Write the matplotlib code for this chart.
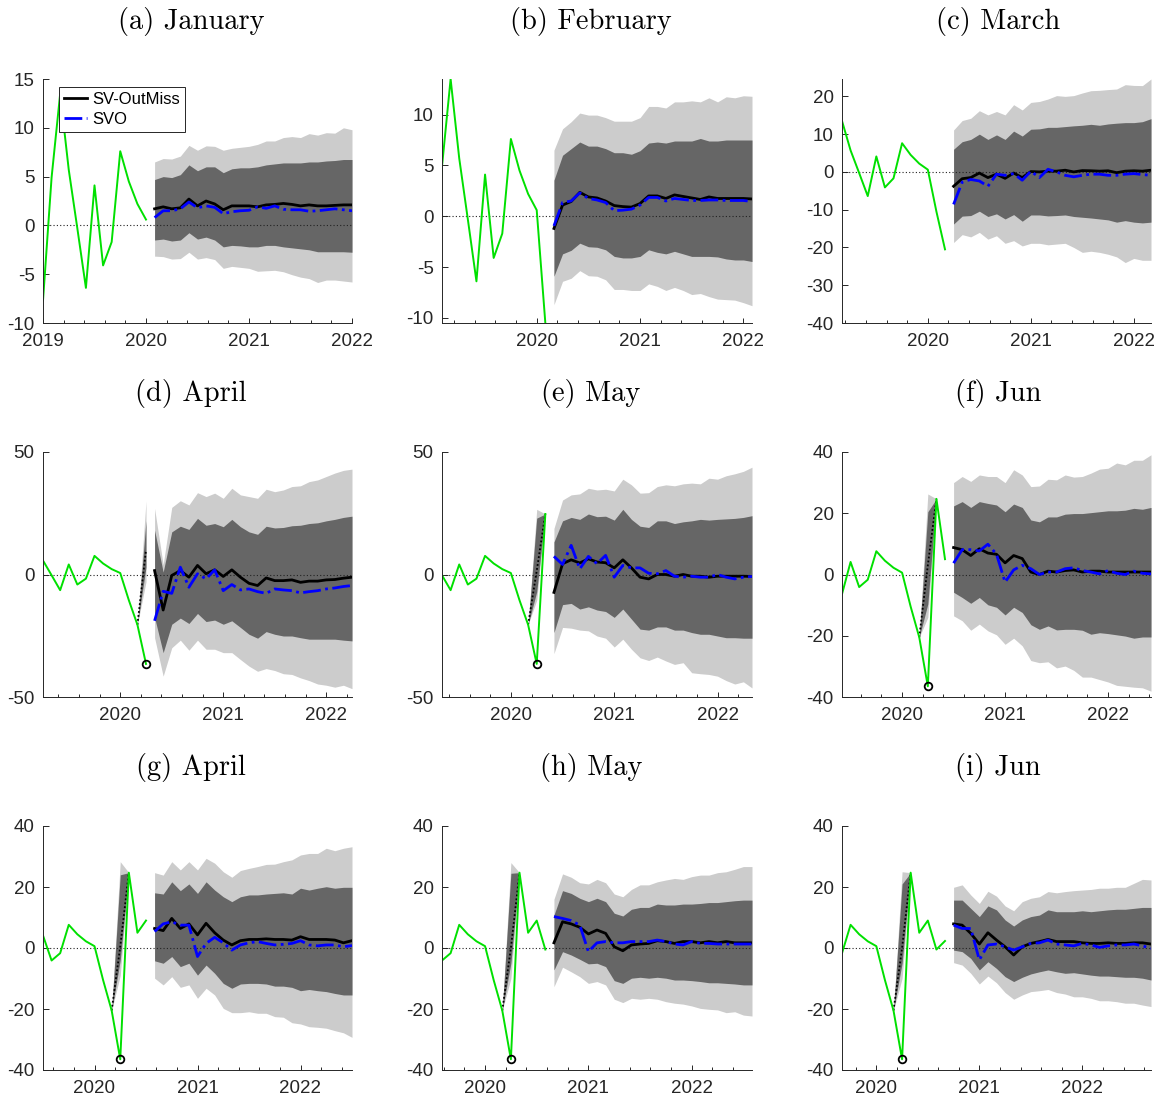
"""Nowcast / forecast fan charts, nine monthly vintages (SV-OutMiss vs SVO)."""

import matplotlib

matplotlib.use("Agg")
import matplotlib.pyplot as plt
import numpy as np
from matplotlib.lines import Line2D
from matplotlib.ticker import FixedLocator, MultipleLocator

plt.rcParams["font.family"] = ["Liberation Sans", "DejaVu Sans"]
plt.rcParams["axes.unicode_minus"] = False

LIGHT_COLOR = "#cccccc"  # outer band
DARK_COLOR = "#666666"  # inner band
OBS_COLOR = "#00e000"  # observed data
AXIS_COLOR = "#262626"

TITLES = [
    "(a) January", "(b) February", "(c) March",
    "(d) April", "(e) May", "(f) Jun",
    "(g) April", "(h) May", "(i) Jun",
]

# observed series, monthly 2019-01 .. 2020-09
OBS = [-7.7, 4.9, 13.5, 5.7, -0.3, -6.4, 4.1, -4.1, -1.7, 7.6, 4.5, 2.2,
       0.6, -10.5, -20.5, -36.5, 24.7, 5.0, 9.0, -0.5, 2.3]

# 24-month forecasts, one block per panel
A_MED = [1.7, 1.9, 1.7, 1.8, 2.7, 2.0, 2.5, 2.2, 1.6, 2.0, 2.0, 2.0, 1.9, 2.1, 2.15, 2.25, 2.15, 2.0, 2.1, 2.0, 2.0, 2.05, 2.1, 2.1]
A_SVO = [0.8, 1.5, 1.5, 1.7, 2.4, 1.8, 2.0, 1.85, 1.2, 1.4, 1.5, 1.55, 1.9, 1.75, 2.0, 1.65, 1.6, 1.6, 1.45, 1.5, 1.6, 1.7, 1.6, 1.5]
A_D_HI = [4.7, 5.0, 4.9, 5.2, 6.2, 5.6, 6.0, 6.0, 5.4, 5.8, 5.9, 5.9, 6.0, 6.2, 6.3, 6.4, 6.4, 6.4, 6.5, 6.5, 6.6, 6.65, 6.75, 6.75]
A_D_LO = [-1.5, -1.4, -1.6, -1.5, -0.75, -1.4, -1.2, -1.5, -2.2, -2.05, -2.1, -2.2, -2.2, -2.05, -2.05, -2.2, -2.3, -2.4, -2.5, -2.7, -2.7, -2.7, -2.7, -2.75]
A_L_HI = [6.5, 6.85, 6.8, 7.1, 8.2, 7.7, 8.15, 8.1, 7.7, 7.9, 8.0, 8.1, 8.3, 8.65, 8.65, 9.0, 9.1, 9.0, 9.4, 9.25, 9.5, 9.45, 10.0, 9.8]
A_L_LO = [-3.15, -3.2, -3.45, -3.4, -2.75, -3.45, -3.3, -3.5, -4.4, -4.2, -4.3, -4.4, -4.7, -4.65, -4.6, -4.75, -5.05, -5.3, -5.45, -5.85, -5.6, -5.6, -5.7, -5.8]

B_MED = [-1.2, 1.1, 1.45, 2.35, 1.9, 1.8, 1.5, 1.05, 0.95, 0.9, 1.25, 2.0, 2.0, 1.75, 2.1, 1.95, 1.8, 1.65, 1.9, 1.75, 1.75, 1.75, 1.75, 1.7]
B_SVO = [-0.95, 1.35, 1.5, 2.3, 1.75, 1.6, 1.35, 0.55, 0.6, 0.7, 1.1, 1.85, 1.85, 1.5, 1.75, 1.65, 1.55, 1.55, 1.6, 1.6, 1.55, 1.55, 1.55, 1.45]
B_D_HI = [3.55, 6.0, 6.65, 7.3, 6.9, 6.9, 6.65, 6.25, 6.25, 6.1, 6.45, 7.2, 7.3, 7.2, 7.4, 7.4, 7.4, 7.65, 7.4, 7.4, 7.5, 7.5, 7.5, 7.5]
B_D_LO = [-5.9, -3.7, -3.35, -2.65, -3.0, -3.05, -3.3, -3.95, -4.1, -4.1, -3.95, -3.3, -3.55, -3.7, -3.45, -3.7, -3.95, -3.95, -3.95, -4.0, -4.2, -4.3, -4.3, -4.45]
B_L_HI = [6.5, 8.6, 9.3, 10.15, 9.95, 9.95, 9.7, 9.35, 9.35, 9.35, 9.7, 10.8, 10.8, 10.65, 11.25, 11.25, 11.35, 11.25, 11.65, 11.25, 11.75, 11.65, 11.85, 11.8]
B_L_LO = [-8.7, -6.4, -6.1, -5.35, -5.85, -5.9, -6.25, -7.2, -7.2, -7.3, -7.3, -6.65, -6.9, -7.3, -7.0, -7.3, -7.7, -7.6, -7.9, -8.15, -8.2, -8.25, -8.5, -8.8]

C_MED = [-3.8, -1.8, -1.5, -0.3, -1.5, -0.6, -1.7, -0.3, -1.5, 0.1, 0.0, 0.2, 0.2, 0.45, 0.0, 0.35, 0.3, 0.2, 0.3, -0.2, 0.2, 0.3, 0.2, 0.45]
C_SVO = [-8.6, -2.7, -2.0, -2.4, -3.8, -0.6, -0.9, -0.45, -2.2, 0.2, -1.5, 0.7, 0.0, -0.9, -1.3, -0.9, -0.6, -0.6, -0.9, -0.9, -0.6, -0.45, -0.7, -0.9]
C_D_HI = [6.0, 8.0, 8.6, 10.0, 8.6, 9.8, 8.6, 10.8, 9.5, 11.3, 11.4, 11.8, 11.8, 12.0, 12.2, 12.35, 12.6, 12.35, 12.7, 12.9, 13.05, 13.05, 13.3, 14.1]
C_D_LO = [-13.8, -11.7, -11.55, -10.4, -11.8, -11.1, -12.45, -11.3, -13.05, -11.4, -11.4, -11.65, -11.55, -11.4, -11.8, -12.0, -12.2, -12.45, -12.7, -13.3, -12.9, -13.3, -13.5, -13.3]
C_L_HI = [11.1, 13.6, 14.2, 16.2, 15.1, 16.0, 15.1, 17.8, 16.4, 18.4, 18.65, 19.3, 20.2, 20.0, 20.2, 20.9, 21.5, 21.6, 21.8, 21.95, 23.1, 22.9, 22.85, 24.6]
C_L_LO = [-18.7, -16.6, -17.2, -16.0, -17.8, -16.9, -18.9, -18.2, -19.6, -18.9, -18.9, -19.3, -19.1, -18.9, -20.0, -21.3, -21.0, -21.3, -21.8, -22.5, -24.0, -22.9, -23.4, -23.4]

D_MED = [1.6, -14.5, -0.4, 1.6, -1.1, 3.7, 0.3, 1.9, -0.8, 1.9, -1.1, -3.6, -4.5, -1.4, -2.5, -2.5, -2.2, -3.2, -2.7, -2.7, -2.2, -2.05, -1.5, -1.1]
D_SVO = [-18.9, -6.85, -7.7, 3.0, -5.2, 0.3, -1.8, 1.9, -6.6, -4.1, -6.3, -5.9, -7.0, -7.7, -5.9, -6.3, -6.6, -7.5, -7.0, -6.6, -5.9, -5.5, -4.9, -4.5]
D_D_HI = [18.1, 1.0, 17.4, 19.7, 18.4, 22.9, 20.1, 20.8, 19.5, 22.5, 19.5, 17.4, 16.4, 19.7, 19.0, 19.2, 19.9, 20.1, 20.8, 21.1, 21.9, 22.5, 23.3, 23.8]
D_D_LO = [-17.5, -31.9, -20.3, -17.8, -20.0, -15.9, -19.2, -18.6, -20.3, -18.9, -21.6, -24.4, -26.0, -23.3, -24.4, -25.1, -25.1, -25.8, -26.4, -26.4, -26.4, -26.4, -26.8, -27.1]
D_L_HI = [27.0, 4.0, 27.4, 30.1, 28.4, 33.4, 31.8, 33.2, 31.1, 35.2, 32.5, 31.8, 31.1, 34.8, 33.8, 34.5, 35.9, 36.2, 37.9, 38.6, 40.0, 41.4, 42.5, 43.0]
D_L_LO = [-25.8, -41.5, -29.9, -26.8, -30.9, -26.8, -30.5, -30.5, -31.9, -31.9, -34.7, -37.4, -39.5, -38.4, -39.2, -40.5, -40.8, -42.2, -43.3, -44.7, -45.2, -46.0, -45.2, -46.6]

E_MED = [-7.3, 4.4, 6.0, 4.7, 6.4, 5.1, 4.8, 2.7, 6.0, 2.7, -1.1, -1.8, 0.0, 0.0, -0.7, 0.0, -0.7, -0.7, -1.1, -0.7, -0.7, -0.7, -0.7, -0.8]
E_SVO = [7.4, 4.1, 11.9, 2.3, 7.4, 4.4, 7.8, -1.1, 3.7, 2.7, 2.7, 0.5, 0.3, 1.6, -0.7, -1.1, -0.7, -1.1, -1.1, 0.0, -1.1, -1.8, -1.1, -0.8]
E_D_HI = [13.3, 21.9, 23.3, 22.5, 24.7, 23.6, 23.8, 22.2, 26.6, 22.5, 19.7, 19.2, 21.9, 21.9, 20.8, 21.5, 21.9, 22.5, 22.2, 22.5, 22.7, 22.9, 23.3, 24.0]
E_D_LO = [-23.7, -12.3, -11.8, -14.1, -13.2, -14.5, -15.1, -17.5, -14.1, -18.2, -22.3, -22.7, -21.4, -21.4, -22.7, -22.7, -23.7, -24.4, -24.4, -25.1, -25.8, -25.8, -26.0, -26.0]
E_L_HI = [18.8, 30.4, 32.5, 32.9, 35.2, 34.5, 34.8, 34.1, 38.9, 36.6, 33.2, 33.4, 35.9, 36.6, 36.2, 37.0, 37.3, 37.0, 39.3, 38.9, 40.3, 41.1, 42.1, 43.8]
E_L_LO = [-32.3, -21.6, -21.9, -22.7, -23.0, -25.1, -26.0, -29.6, -26.4, -30.5, -34.0, -35.1, -33.7, -35.3, -36.7, -36.0, -40.1, -40.5, -40.8, -41.5, -43.3, -44.7, -43.8, -46.3]

F_MED = [8.8, 8.1, 6.2, 8.4, 7.0, 6.6, 3.8, 6.2, 5.2, 0.8, 0.0, 1.1, 0.8, 1.3, 1.5, 0.8, 1.1, 1.1, 0.8, 0.8, 0.8, 0.8, 0.8, 0.8]
F_SVO = [3.7, 8.1, 8.1, 7.7, 9.9, 6.6, -2.5, 1.5, 3.0, 1.9, 0.0, 0.8, 0.8, 1.9, 2.2, 1.3, 0.8, 0.2, 1.3, 0.4, 0.0, 1.1, 0.4, 0.2]
F_D_HI = [22.4, 23.8, 21.9, 23.8, 23.2, 22.7, 20.5, 23.0, 21.9, 17.8, 17.2, 18.8, 18.8, 19.7, 19.9, 19.9, 20.2, 20.5, 20.8, 20.8, 21.0, 21.6, 21.3, 21.9]
F_D_LO = [-5.8, -7.5, -9.4, -7.5, -9.9, -10.7, -13.2, -10.7, -12.4, -16.4, -17.9, -16.8, -18.1, -17.9, -17.9, -18.2, -19.5, -19.0, -19.3, -19.7, -20.1, -20.8, -20.4, -20.4]
F_L_HI = [30.0, 32.0, 30.4, 32.5, 32.0, 32.0, 30.0, 34.2, 32.5, 28.7, 28.9, 31.1, 30.9, 32.5, 31.8, 32.0, 33.1, 34.4, 34.7, 36.4, 35.8, 37.3, 37.3, 39.1]
F_L_LO = [-13.5, -15.1, -18.2, -16.2, -18.4, -19.7, -22.8, -20.8, -23.3, -28.1, -28.8, -28.5, -30.5, -29.9, -31.3, -33.5, -33.5, -34.3, -35.1, -36.2, -36.5, -36.8, -37.0, -38.1]

G_MED = [6.4, 5.7, 9.7, 6.4, 7.9, 4.3, 8.1, 5.0, 2.6, 1.0, 2.4, 2.8, 2.8, 3.0, 2.8, 2.8, 2.6, 3.7, 2.8, 2.8, 2.8, 2.6, 1.7, 2.4]
G_SVO = [5.4, 7.9, 8.6, 7.5, 7.5, -2.8, 1.5, 3.5, 1.7, -0.7, 1.0, 1.7, 2.1, 1.5, 1.0, 1.2, 1.5, 2.4, 1.0, 0.7, 1.0, 1.0, 0.4, 0.8]
G_D_HI = [18.1, 17.7, 21.7, 18.8, 21.0, 17.9, 21.7, 19.0, 16.8, 15.2, 16.8, 17.4, 17.4, 17.7, 17.9, 18.1, 17.7, 19.6, 19.0, 19.6, 20.1, 19.6, 19.9, 19.9]
G_D_LO = [-4.2, -5.0, -2.8, -6.1, -5.0, -8.9, -5.6, -8.3, -11.6, -13.2, -11.8, -11.6, -11.6, -11.8, -12.5, -12.5, -12.9, -14.0, -13.6, -14.0, -14.3, -14.9, -15.4, -15.4]
G_L_HI = [24.7, 23.9, 28.3, 25.6, 28.3, 25.6, 29.4, 27.8, 25.0, 23.2, 25.4, 26.1, 26.7, 27.4, 27.5, 28.3, 28.9, 30.5, 31.0, 31.0, 32.7, 31.9, 32.7, 33.2]
G_L_LO = [-9.9, -12.1, -9.4, -12.9, -12.1, -16.5, -13.2, -15.4, -19.8, -21.2, -21.2, -20.9, -21.4, -21.4, -22.5, -22.7, -24.5, -24.9, -25.8, -26.0, -26.3, -27.1, -27.8, -29.3]

H_MED = [1.7, 8.6, 7.9, 6.8, 4.6, 5.9, 4.8, 0.4, -0.9, 1.0, 1.3, 1.5, 2.4, 2.1, 1.5, 2.1, 2.1, 1.7, 2.1, 1.7, 2.1, 1.7, 1.7, 1.7]
H_SVO = [10.3, 9.7, 9.0, 7.5, -1.2, 1.7, 2.1, 1.7, 1.7, 2.1, 2.1, 2.1, 2.6, 2.1, 1.3, 1.0, 2.1, 1.5, 1.5, 1.3, 1.3, 1.3, 1.3, 1.3]
H_D_HI = [10.8, 18.8, 17.9, 16.3, 15.2, 16.3, 15.2, 11.4, 10.5, 12.7, 13.3, 13.3, 14.4, 14.1, 14.1, 14.4, 14.4, 14.6, 14.9, 14.9, 15.2, 15.5, 15.7, 15.7]
H_D_LO = [-7.2, -1.2, -2.3, -3.7, -5.2, -5.0, -6.1, -10.7, -11.6, -9.9, -9.6, -9.9, -9.6, -9.9, -10.5, -10.5, -10.7, -11.0, -11.4, -11.4, -11.6, -11.8, -12.1, -12.1]
H_L_HI = [16.0, 24.3, 23.2, 21.4, 21.0, 22.5, 21.4, 17.7, 16.8, 19.2, 20.7, 20.7, 21.7, 22.3, 22.8, 22.5, 23.4, 23.9, 23.9, 24.7, 25.0, 25.8, 26.7, 26.7]
H_L_LO = [-12.7, -6.3, -7.8, -9.4, -11.6, -11.0, -12.1, -16.8, -17.9, -16.5, -16.8, -16.5, -16.8, -17.6, -18.1, -18.4, -19.0, -19.8, -20.1, -20.3, -21.2, -20.9, -22.0, -22.3]

I_MED = [7.9, 7.5, 4.8, 1.3, 5.0, 2.6, 0.4, -2.3, 0.4, 1.5, 2.1, 2.8, 2.1, 2.1, 2.1, 1.7, 1.5, 1.5, 1.7, 1.5, 1.5, 1.7, 1.7, 1.3]
I_SVO = [7.5, 6.4, 6.4, -3.9, 1.0, 1.3, 0.4, -0.7, 0.4, 1.5, 1.7, 2.6, 1.3, 1.0, 0.7, 1.5, 1.0, 0.2, 0.7, 1.0, 1.0, 1.3, 0.7, -0.1]
I_D_HI = [15.7, 15.7, 13.0, 10.3, 13.8, 12.5, 9.2, 7.2, 9.2, 10.3, 10.8, 12.5, 11.9, 11.9, 11.9, 12.2, 11.9, 12.2, 12.5, 12.7, 12.7, 13.0, 13.3, 13.3]
I_D_LO = [-0.7, -1.2, -3.4, -7.2, -4.5, -6.7, -9.4, -11.0, -9.6, -8.5, -7.8, -7.2, -7.8, -8.3, -8.1, -8.5, -8.9, -9.2, -9.2, -9.4, -9.6, -9.6, -9.9, -10.5]
I_L_HI = [19.9, 20.7, 17.4, 14.6, 18.6, 17.0, 13.8, 12.2, 15.2, 16.3, 16.8, 18.5, 18.1, 18.5, 18.8, 19.0, 19.2, 19.6, 19.6, 19.9, 19.9, 21.2, 22.5, 22.3]
I_L_LO = [-4.8, -5.6, -8.3, -11.8, -9.2, -11.4, -14.6, -16.8, -15.4, -14.3, -14.0, -13.6, -14.6, -15.1, -16.0, -16.0, -16.5, -17.3, -17.3, -17.6, -18.1, -18.1, -18.7, -19.2]

# nowcast of the April 2020 outlier-adjusted value, panels (d)..(i)
NOW_MED = [10.0, 1.5, 3.0, 0.5, 0.0, 0.0]
NOW_D_LO = [3.0, -7.0, -9.6, -4.0, -5.0, -5.0]
NOW_D_HI = [22.0, 23.0, 20.5, 24.0, 24.5, 21.0]
NOW_L_LO = [-3.0, -10.5, -14.0, -9.0, -10.0, -10.0]
NOW_L_HI = [30.0, 26.6, 26.3, 28.3, 28.0, 25.0]

Y_LIMS = [(-10, 15), (-10.5, 13.5), (-40, 24.6),
          (-50, 50), (-50, 50), (-40, 40),
          (-40, 40), (-40, 40), (-40, 40)]
Y_TICKS = [[-10, -5, 0, 5, 10, 15], [-10, -5, 0, 5, 10], [-40, -30, -20, -10, 0, 10, 20],
           [-50, 0, 50], [-50, 0, 50], [-40, -20, 0, 20, 40],
           [-40, -20, 0, 20, 40], [-40, -20, 0, 20, 40], [-40, -20, 0, 20, 40]]

FORECASTS = [
    (A_MED, A_SVO, A_D_LO, A_D_HI, A_L_LO, A_L_HI),
    (B_MED, B_SVO, B_D_LO, B_D_HI, B_L_LO, B_L_HI),
    (C_MED, C_SVO, C_D_LO, C_D_HI, C_L_LO, C_L_HI),
    (D_MED, D_SVO, D_D_LO, D_D_HI, D_L_LO, D_L_HI),
    (E_MED, E_SVO, E_D_LO, E_D_HI, E_L_LO, E_L_HI),
    (F_MED, F_SVO, F_D_LO, F_D_HI, F_L_LO, F_L_HI),
    (G_MED, G_SVO, G_D_LO, G_D_HI, G_L_LO, G_L_HI),
    (H_MED, H_SVO, H_D_LO, H_D_HI, H_L_LO, H_L_HI),
    (I_MED, I_SVO, I_D_LO, I_D_HI, I_L_LO, I_L_HI),
]

# layout in pixels of the 1158 x 1099 canvas
FIG_W, FIG_H = 1158, 1099
COL_LEFT = [43, 442, 842]
COL_RIGHT = [352, 752, 1151]
ROW_TOP = [79, 452, 826]
ROW_BOTTOM = [323, 697, 1070]
TITLE_X = [191, 591, 998]
TITLE_Y = [21, 394, 768]

OBS_X = 2019 + np.arange(len(OBS)) / 12.0
APR_2020 = 15  # index of the outlier month

fig = plt.figure(figsize=(FIG_W / 100, FIG_H / 100), dpi=100)

for k, (med, svo, d_lo, d_hi, l_lo, l_hi) in enumerate(FORECASTS):
    row, col = divmod(k, 3)
    left, right = COL_LEFT[col], COL_RIGHT[col]
    top, bottom = ROW_TOP[row], ROW_BOTTOM[row]
    ax = fig.add_axes([left / FIG_W, 1 - bottom / FIG_H,
                       (right - left) / FIG_W, (bottom - top) / FIG_H])

    last_obs = 12 + k
    fc_x = 2019 + (last_obs + 1 + np.arange(len(med))) / 12.0

    ax.fill_between(fc_x, l_lo, l_hi, color=LIGHT_COLOR, lw=0, zorder=1)
    ax.fill_between(fc_x, d_lo, d_hi, color=DARK_COLOR, lw=0, zorder=2)

    # nowcast fan for the April 2020 observation
    if k >= 3:
        j = k - 3
        start = OBS[APR_2020 - 1]
        if k == 3:
            nx = OBS_X[APR_2020 - 1:APR_2020 + 1]
            n_med = [start, NOW_MED[j]]
            n_dlo, n_dhi = [start, NOW_D_LO[j]], [start, NOW_D_HI[j]]
            n_llo, n_lhi = [start, NOW_L_LO[j]], [start, NOW_L_HI[j]]
        else:
            end = OBS[APR_2020 + 1]
            nx = OBS_X[APR_2020 - 1:APR_2020 + 2]
            n_med = [start, NOW_MED[j], end]
            n_dlo, n_dhi = [start, NOW_D_LO[j], end], [start, NOW_D_HI[j], end]
            n_llo, n_lhi = [start, NOW_L_LO[j], end], [start, NOW_L_HI[j], end]
        ax.fill_between(nx, n_llo, n_lhi, color=LIGHT_COLOR, lw=0, zorder=1)
        ax.fill_between(nx, n_dlo, n_dhi, color=DARK_COLOR, lw=0, zorder=2)
        ax.plot(nx, n_med, color="k", ls=(0, (1, 1.2)), lw=1.3, zorder=4)

    ax.axhline(0, color="#222222", ls=(0, (1, 2)), lw=0.8, zorder=3)

    ax.plot(OBS_X[:last_obs + 1], OBS[:last_obs + 1], color=OBS_COLOR, lw=1.4, zorder=5)
    ax.plot(fc_x, med, color="k", lw=2.0, zorder=6)
    ax.plot(fc_x, svo, color="#0000ff", ls="-.", lw=2.0, zorder=7)
    if k >= 3:
        ax.plot(OBS_X[APR_2020], OBS[APR_2020], "o", mfc="none", mec="k",
                ms=5.5, mew=1.3, zorder=8, clip_on=False)

    ax.set_xlim(2019 + k / 12.0, 2022 + k / 12.0)
    ax.set_ylim(*Y_LIMS[k])
    ax.yaxis.set_major_locator(FixedLocator(Y_TICKS[k]))
    ax.xaxis.set_major_locator(MultipleLocator(1))
    ax.xaxis.set_minor_locator(MultipleLocator(0.2))
    ax.xaxis.set_major_formatter(lambda v, pos: f"{v:.0f}")

    for side in ("top", "right"):
        ax.spines[side].set_visible(False)
    for side in ("left", "bottom"):
        ax.spines[side].set_color(AXIS_COLOR)
        ax.spines[side].set_linewidth(0.7)
        ax.spines[side].set_zorder(9)
    ax.tick_params(axis="both", which="both", direction="in", color=AXIS_COLOR,
                   labelcolor=AXIS_COLOR, labelsize=13.5, width=0.7)
    ax.tick_params(axis="y", which="major", length=4, pad=6)
    ax.tick_params(axis="x", which="major", length=3.5, pad=7)
    ax.tick_params(axis="x", which="minor", length=2.5)
    ax.tick_params(axis="y", which="minor", left=False)

    fig.text(TITLE_X[col] / FIG_W, 1 - TITLE_Y[row] / FIG_H, TITLES[k],
             ha="center", va="center", fontsize=20.5, family="cmr10")

    if k == 0:
        handles = [Line2D([], [], color="k", lw=2.0),
                   Line2D([], [], color="#0000ff", ls="-.", lw=2.0)]
        leg = ax.legend(handles, ["SV-OutMiss", "SVO"], loc="upper left",
                        bbox_to_anchor=(0.052, 0.967), borderaxespad=0,
                        fontsize=12, fancybox=False, framealpha=1,
                        edgecolor=AXIS_COLOR, handlelength=1.4,
                        handletextpad=0.3, borderpad=0.3, labelspacing=0.3)
        leg.get_frame().set_linewidth(0.7)
        leg.set_zorder(10)

fig.savefig("out.png", dpi=100)
